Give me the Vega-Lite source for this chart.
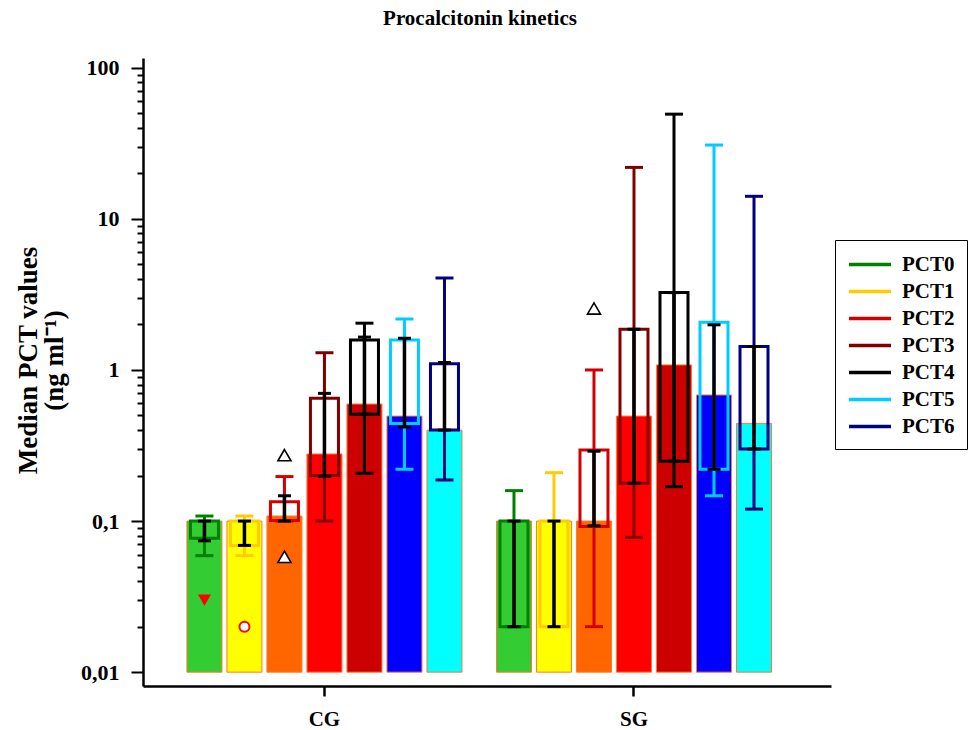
{
  "$schema": "https://vega.github.io/schema/vega-lite/v6.json",
  "autosize": {"type": "none"},
  "padding": {"left": 143, "top": 58, "right": 142, "bottom": 44},
  "width": 688,
  "height": 628,
  "background": "white",
  "title": {"text": "Procalcitonin kinetics", "font": "Liberation Serif", "fontSize": 21, "fontWeight": "bold", "color": "black", "baseline": "alphabetic", "offset": 11, "frame": "group", "anchor": "middle", "dx": -7},
  "config": {
    "view": {"stroke": null},
    "tick": {"opacity": 1},
    "axis": {"grid": false, "domainColor": "black", "tickColor": "black", "labelColor": "black", "titleColor": "black", "labelFont": "Liberation Serif", "titleFont": "Liberation Serif", "labelFontWeight": "bold", "titleFontWeight": "bold"}
  },
  "datasets": {
    "stats": [
      {"group": "CG", "pct": "PCT0", "bar": 0.1, "boxLo": 0.077, "boxHi": 0.1, "wLo": 0.059, "wHi": 0.108, "bLo": 0.074, "bHi": 0.1},
      {"group": "CG", "pct": "PCT1", "bar": 0.1, "boxLo": 0.069, "boxHi": 0.1, "wLo": 0.059, "wHi": 0.108, "bLo": 0.069, "bHi": 0.1},
      {"group": "CG", "pct": "PCT2", "bar": 0.108, "boxLo": 0.101, "boxHi": 0.134, "wLo": 0.1, "wHi": 0.197, "bLo": 0.1, "bHi": 0.147},
      {"group": "CG", "pct": "PCT3", "bar": 0.278, "boxLo": 0.2, "boxHi": 0.65, "wLo": 0.1, "wHi": 1.3, "bLo": 0.198, "bHi": 0.7},
      {"group": "CG", "pct": "PCT4", "bar": 0.595, "boxLo": 0.51, "boxHi": 1.58, "wLo": 0.207, "wHi": 2.04, "bLo": 0.51, "bHi": 1.65},
      {"group": "CG", "pct": "PCT5", "bar": 0.495, "boxLo": 0.443, "boxHi": 1.58, "wLo": 0.22, "wHi": 2.17, "bLo": 0.42, "bHi": 1.62},
      {"group": "CG", "pct": "PCT6", "bar": 0.4, "boxLo": 0.4, "boxHi": 1.1, "wLo": 0.187, "wHi": 4.06, "bLo": 0.4, "bHi": 1.12},
      {"group": "SG", "pct": "PCT0", "bar": 0.1, "boxLo": 0.02, "boxHi": 0.1, "wLo": 0.02, "wHi": 0.159, "bLo": 0.02, "bHi": 0.1},
      {"group": "SG", "pct": "PCT1", "bar": 0.1, "boxLo": 0.02, "boxHi": 0.1, "wLo": 0.02, "wHi": 0.209, "bLo": 0.02, "bHi": 0.1},
      {"group": "SG", "pct": "PCT2", "bar": 0.1, "boxLo": 0.092, "boxHi": 0.295, "wLo": 0.02, "wHi": 1.0, "bLo": 0.093, "bHi": 0.29},
      {"group": "SG", "pct": "PCT3", "bar": 0.495, "boxLo": 0.178, "boxHi": 1.86, "wLo": 0.078, "wHi": 21.9, "bLo": 0.178, "bHi": 1.86},
      {"group": "SG", "pct": "PCT4", "bar": 1.08, "boxLo": 0.249, "boxHi": 3.25, "wLo": 0.169, "wHi": 49.3, "bLo": 0.249, "bHi": 3.25},
      {"group": "SG", "pct": "PCT5", "bar": 0.683, "boxLo": 0.22, "boxHi": 2.07, "wLo": 0.147, "wHi": 30.8, "bLo": 0.22, "bHi": 1.99},
      {"group": "SG", "pct": "PCT6", "bar": 0.443, "boxLo": 0.3, "boxHi": 1.43, "wLo": 0.12, "wHi": 14.1, "bLo": 0.3, "bHi": 1.43}
    ],
    "markers": [
      {"group": "CG", "pct": "PCT0", "value": 0.03, "kind": "down"},
      {"group": "CG", "pct": "PCT1", "value": 0.02, "kind": "circle"},
      {"group": "CG", "pct": "PCT2", "value": 0.273, "kind": "up"},
      {"group": "CG", "pct": "PCT2", "value": 0.058, "kind": "up"},
      {"group": "SG", "pct": "PCT2", "value": 2.55, "kind": "up"}
    ]
  },
  "encoding": {
    "x": {"field": "group", "type": "nominal", "scale": {"domain": ["CG", "SG"], "paddingInner": 0.0953, "paddingOuter": 0.159, "align": 0.421},
      "axis": {"title": null, "labelAngle": 0, "labelFontSize": 21, "labelPadding": 12, "tickSize": 10, "tickWidth": 2.5, "domainWidth": 2.5}},
    "xOffset": {"field": "pct", "type": "nominal", "scale": {"domain": ["PCT0", "PCT1", "PCT2", "PCT3", "PCT4", "PCT5", "PCT6"], "paddingInner": 0.125, "paddingOuter": 0.0625}}
  },
  "layer": [
    {
      "data": {"name": "stats"},
      "mark": {"type": "bar", "stroke": "#ff7a2a", "strokeWidth": 1},
      "encoding": {
        "y": {"field": "bar", "type": "quantitative", "scale": {"type": "log", "domain": [0.0081, 116], "nice": false},
          "axis": {"title": ["Median PCT values", "(ng ml⁻¹)"], "titleFontSize": 27, "titlePadding": 12, "titleLineHeight": 26, "titleY": 302, "labelFontSize": 22, "labelPadding": 12, "tickWidth": 2, "domainWidth": 2.5, "labelOverlap": false, "labelBound": false,
            "values": [0.01, 0.02, 0.03, 0.04, 0.05, 0.06, 0.07, 0.08, 0.09, 0.1, 0.2, 0.3, 0.4, 0.5, 0.6, 0.7, 0.8, 0.9, 1, 2, 3, 4, 5, 6, 7, 8, 9, 10, 20, 30, 40, 50, 60, 70, 80, 90, 100],
            "labelExpr": "datum.value == 0.01 ? '0,01' : datum.value == 0.1 ? '0,1' : datum.value == 1 ? '1' : datum.value == 10 ? '10' : datum.value == 100 ? '100' : ''",
            "tickSize": {"condition": {"test": "datum.value == 0.01 || datum.value == 0.1 || datum.value == 1 || datum.value == 10 || datum.value == 100", "value": 12}, "value": 6}}},
        "y2": {"datum": 0.01},
        "fill": {"field": "pct", "type": "nominal", "legend": null, "scale": {"range": ["#33cc33", "#ffff00", "#ff6600", "#ff0000", "#cc0000", "#0000ff", "#00ffff"]}}
      }
    },
    {
      "data": {"name": "stats"},
      "mark": {"type": "rule", "strokeWidth": 3, "opacity": 1},
      "encoding": {
        "y": {"field": "wLo", "type": "quantitative"},
        "y2": {"field": "wHi"},
        "color": {"field": "pct", "type": "nominal", "scale": {"domain": ["PCT0", "PCT1", "PCT2", "PCT3", "PCT4", "PCT5", "PCT6"], "range": ["#008000", "#ffcc00", "#d40000", "#800000", "#000000", "#00ccff", "#000080"]},
          "legend": {"title": null, "orient": "none", "legendX": 692, "legendY": 182, "symbolType": "M-1,0H3", "symbolSize": 441, "symbolStrokeWidth": 3.5, "symbolOpacity": 1, "labelOffset": 30, "labelFont": "Liberation Serif", "labelFontWeight": "bold", "labelFontSize": 21, "labelColor": "black", "strokeColor": "black", "fillColor": "white", "padding": 12, "rowPadding": 4}}
      }
    },
    {
      "data": {"name": "stats"},
      "mark": {"type": "tick", "thickness": 3, "size": 18, "opacity": 1},
      "encoding": {
        "y": {"field": "wHi", "type": "quantitative"},
        "color": {"field": "pct", "type": "nominal"}
      }
    },
    {
      "data": {"name": "stats"},
      "mark": {"type": "tick", "thickness": 3, "size": 18, "opacity": 1},
      "encoding": {
        "y": {"field": "wLo", "type": "quantitative"},
        "color": {"field": "pct", "type": "nominal"}
      }
    },
    {
      "data": {"name": "stats"},
      "mark": {"type": "bar", "filled": false, "strokeWidth": 3, "width": 28, "opacity": 1},
      "encoding": {
        "y": {"field": "boxLo", "type": "quantitative"},
        "y2": {"field": "boxHi"},
        "color": {"field": "pct", "type": "nominal"}
      }
    },
    {
      "data": {"name": "stats"},
      "mark": {"type": "rule", "strokeWidth": 3.5, "color": "black"},
      "encoding": {
        "y": {"field": "bLo", "type": "quantitative"},
        "y2": {"field": "bHi"}
      }
    },
    {
      "data": {"name": "stats"},
      "mark": {"type": "tick", "thickness": 3, "size": 13, "color": "black", "opacity": 1},
      "encoding": {"y": {"field": "bHi", "type": "quantitative"}}
    },
    {
      "data": {"name": "stats"},
      "mark": {"type": "tick", "thickness": 3, "size": 13, "color": "black", "opacity": 1},
      "encoding": {"y": {"field": "bLo", "type": "quantitative"}}
    },
    {
      "data": {"name": "markers"},
      "transform": [{"filter": "datum.kind == 'down'"}],
      "mark": {"type": "point", "shape": "triangle-down", "filled": true, "fill": "#ff0000", "size": 170, "opacity": 1},
      "encoding": {"y": {"field": "value", "type": "quantitative"}}
    },
    {
      "data": {"name": "markers"},
      "transform": [{"filter": "datum.kind == 'circle'"}],
      "mark": {"type": "point", "shape": "circle", "filled": false, "fill": "white", "fillOpacity": 1, "stroke": "#ff0000", "strokeWidth": 2, "size": 100, "opacity": 1},
      "encoding": {"y": {"field": "value", "type": "quantitative"}}
    },
    {
      "data": {"name": "markers"},
      "transform": [{"filter": "datum.kind == 'up'"}],
      "mark": {"type": "point", "shape": "triangle-up", "filled": false, "fill": "white", "fillOpacity": 1, "stroke": "black", "strokeWidth": 1.6, "size": 170, "opacity": 1},
      "encoding": {"y": {"field": "value", "type": "quantitative"}}
    }
  ]
}
